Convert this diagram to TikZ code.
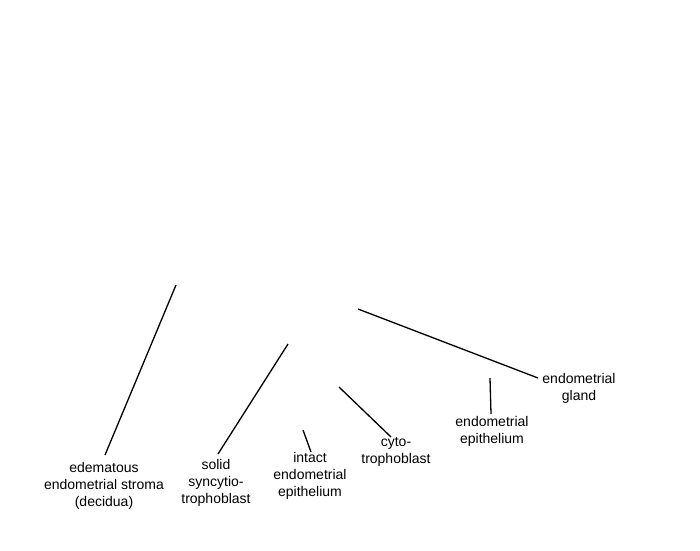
\documentclass[tikz,border=0pt]{standalone}
\usepackage{fontspec}
\setmainfont{Liberation Sans}
\begin{document}
\begin{tikzpicture}[x=1pt,y=-1pt,
  lbl/.style={align=center,inner sep=0pt,font=\fontsize{14}{17}\selectfont},
  leader/.style={draw=black,line width=1.3pt}]
\useasboundingbox (0,0) rectangle (700,550);
\node[lbl] (stroma) at (104,486) {edematous\\endometrial stroma\\(decidua)};
\node[lbl] (syn) at (216,483) {solid\\syncytio-\\trophoblast};
\node[lbl] (intact) at (310,476) {intact\\endometrial\\epithelium};
\node[lbl] (cyto) at (396,452) {cyto-\\trophoblast};
\node[lbl] (epi) at (492,431) {endometrial\\epithelium};
\node[lbl] (gland) at (579,388) {endometrial\\gland};
\coordinate (s1) at (176,285); \coordinate (s2) at (105,455);
\coordinate (y1) at (288,344); \coordinate (y2) at (218,454);
\coordinate (i1) at (303,430); \coordinate (i2) at (311,452);
\coordinate (c1) at (339,387); \coordinate (c2) at (391,437);
\coordinate (e1) at (490,378); \coordinate (e2) at (491,414);
\coordinate (g1) at (358,309); \coordinate (g2) at (538,378);
\draw[leader] (s1) -- (s2);
\draw[leader] (y1) -- (y2);
\draw[leader] (i1) -- (i2);
\draw[leader] (c1) -- (c2);
\draw[leader] (e1) -- (e2);
\draw[leader] (g1) -- (g2);
\end{tikzpicture}
\end{document}
